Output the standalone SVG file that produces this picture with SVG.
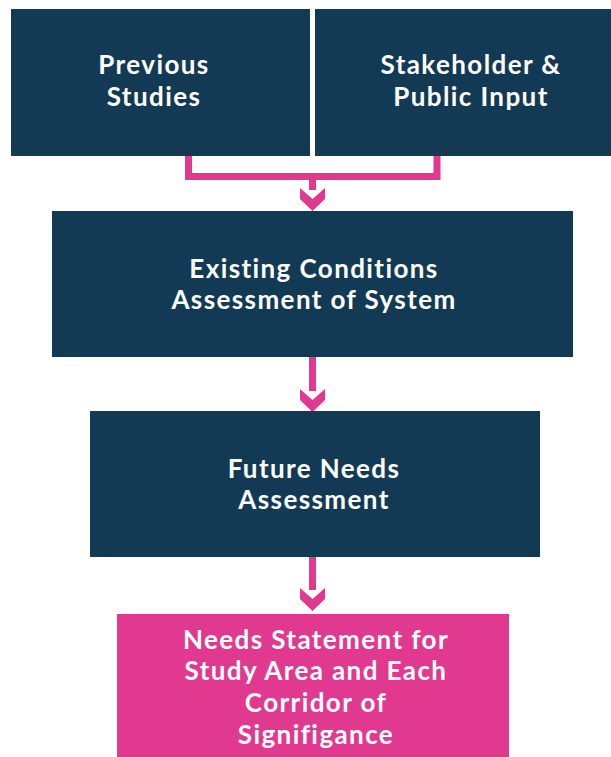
<svg xmlns="http://www.w3.org/2000/svg" width="611" height="757" viewBox="0 0 611 757">
<defs>
<style>
.box{fill:#133A55}
.pink{fill:#E0398F}
.t{font-family:Lato,"Open Sans",sans-serif;font-weight:bold;font-size:26px;letter-spacing:1.4px;fill:#ffffff;text-anchor:middle}
.c{fill:none;stroke:#E0398F;stroke-width:7}
.h{fill:#E0398F}
</style>
</defs>
<rect width="611" height="757" fill="#ffffff"/>
<g id="connectors">
<path class="c" d="M188.5 156 V176.5 H437 V156"/>
<path class="c" d="M312.5 176.5 V190"/>
<polygon class="h" points="300,188 312.5,199 325,188 325,199 312.5,211 300,199"/>
<path class="c" d="M312.5 357 V391"/>
<polygon class="h" points="300,389 312.5,400 325,389 325,400 312.5,412 300,400"/>
<path class="c" d="M312.5 557 V590"/>
<polygon class="h" points="300,588 312.5,599 325,588 325,599 312.5,611 300,599"/>
</g>
<g id="previous-studies">
<rect class="box" x="11" y="9" width="299" height="147"/>
<text class="t" x="154" y="74">Previous</text>
<text class="t" x="154" y="106">Studies</text>
</g>
<g id="stakeholder-input">
<rect class="box" x="315" y="9" width="296" height="147"/>
<text class="t" x="471" y="74">Stakeholder &amp;</text>
<text class="t" x="471" y="106">Public Input</text>
</g>
<g id="existing-conditions">
<rect class="box" x="52" y="211" width="521" height="146"/>
<text class="t" x="314" y="278">Existing Conditions</text>
<text class="t" x="314" y="309">Assessment of System</text>
</g>
<g id="future-needs">
<rect class="box" x="90" y="411" width="450" height="146"/>
<text class="t" x="314" y="478">Future Needs</text>
<text class="t" x="314" y="509">Assessment</text>
</g>
<g id="needs-statement">
<rect class="pink" x="117" y="614" width="392" height="143"/>
<text class="t" x="316" y="649">Needs Statement for</text>
<text class="t" x="316" y="680">Study Area and Each</text>
<text class="t" x="316" y="712">Corridor of</text>
<text class="t" x="316" y="744">Signifigance</text>
</g>
</svg>
